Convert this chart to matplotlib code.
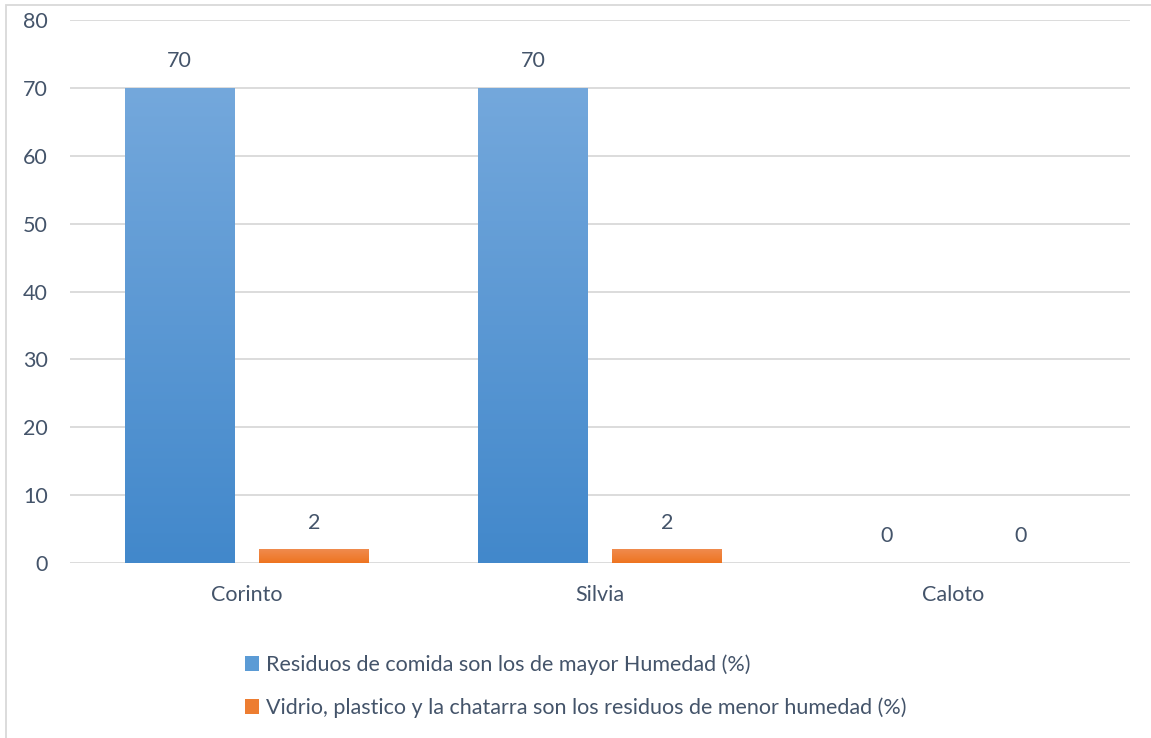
import numpy as np
import matplotlib.pyplot as plt
from matplotlib.patches import Rectangle, Patch

municipios = ["Corinto", "Silvia", "Caloto"]
comida = [70, 70, 0]
vidrio = [2, 2, 0]
series_names = [
    "Residuos de comida son los de mayor Humedad (%)",
    "Vidrio, plastico y la chatarra son los residuos de menor humedad (%)",
]
yticks = [0, 10, 20, 30, 40, 50, 60, 70, 80]

txt = "#44546A"
fs = 15.5
plt.rcParams["font.family"] = ["Lato", "DejaVu Sans"]

fig = plt.figure(figsize=(11.51, 7.38), dpi=100)
ax = fig.add_axes([70 / 1151, 1 - 563 / 738, 1060 / 1151, 543 / 738])


def grad_bars(bars, top, bottom):
    # fill each bar with a vertical gradient (light on top, dark at bottom)
    c1 = np.array(plt.matplotlib.colors.to_rgb(top))
    c2 = np.array(plt.matplotlib.colors.to_rgb(bottom))
    t = np.linspace(0, 1, 256)[:, None]
    img = (c1 * (1 - t) + c2 * t)[:, None, :]
    for b in bars:
        x, y = b.get_x(), b.get_y()
        w, h = b.get_width(), b.get_height()
        if h <= 0:
            continue
        b.set_facecolor("none")
        im = ax.imshow(img, extent=[x, x + w, y, y + h], origin="upper",
                       aspect="auto", zorder=3)
        im.set_clip_path(b)


x = np.arange(len(municipios))
w = 0.31
b1 = ax.bar(x - 0.19, comida, w, color="#5B9BD5", linewidth=0, zorder=3)
b2 = ax.bar(x + 0.19, vidrio, w, color="#ED7D31", linewidth=0, zorder=3)
grad_bars(b1, "#74A8DC", "#4288CB")
grad_bars(b2, "#F08B4E", "#EE7420")

for bars, vals in ((b1, comida), (b2, vidrio)):
    for b, v in zip(bars, vals):
        ax.annotate(str(v), (b.get_x() + b.get_width() / 2, v),
                    xytext=(0, 12), textcoords="offset points",
                    ha="center", va="bottom", fontsize=fs, color=txt)

ax.set_xlim(-0.5, 2.5)
ax.set_ylim(0, 80)
ax.set_yticks(yticks)
ax.set_xticks(x)
ax.set_xticklabels(municipios)
ax.tick_params(length=0, labelsize=fs, labelcolor=txt)
ax.tick_params(axis="y", pad=16)
ax.tick_params(axis="x", pad=16)
ax.grid(axis="y", color="#D9D9D9", linewidth=1.3, zorder=0)
ax.set_axisbelow(True)
for s in ax.spines.values():
    s.set_visible(False)

# outer chart frame
fig.patches.append(Rectangle((6 / 1151, -0.01), 1.1, 1 - 5 / 738 + 0.01,
                             transform=fig.transFigure, fill=False,
                             edgecolor="#D9D9D9", linewidth=1.3))

handles = [Patch(facecolor="#5B9BD5"), Patch(facecolor="#ED7D31")]
fig.legend(handles, series_names, loc="upper left",
           bbox_to_anchor=(226 / 1151, 1 - 635 / 738), frameon=False,
           fontsize=fs, labelcolor=txt, handlelength=0.65, handleheight=0.65,
           handletextpad=0.3, labelspacing=1.05)

fig.savefig("out.png", dpi=100)
